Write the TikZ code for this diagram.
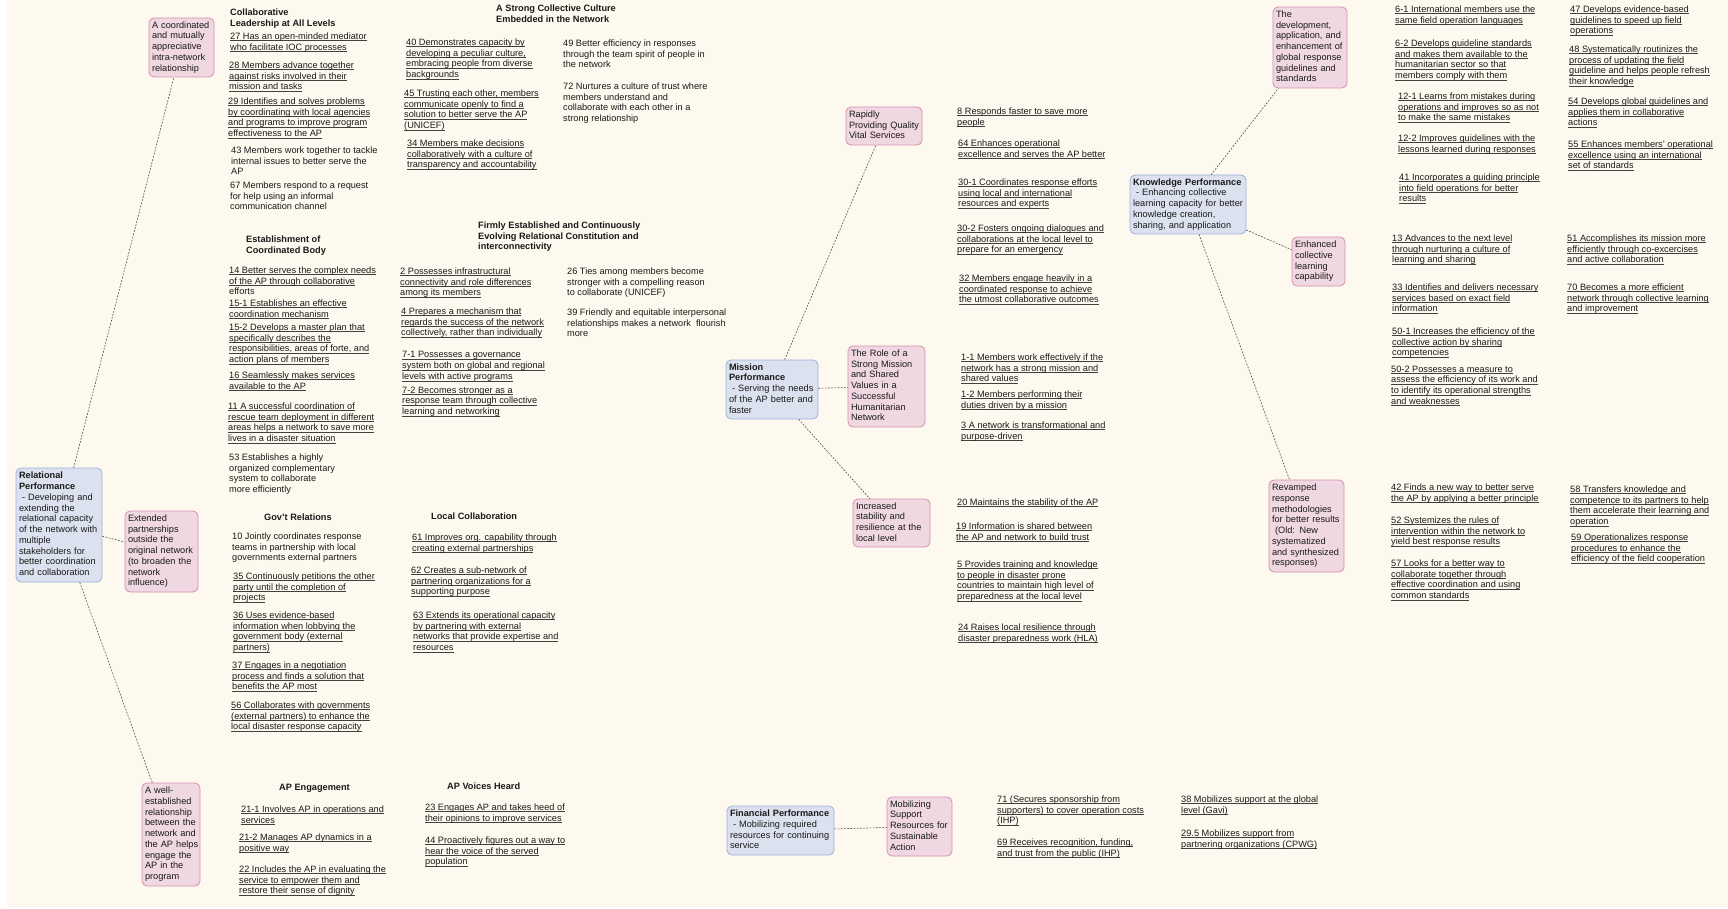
\documentclass[tikz,border=0pt]{standalone}
\usepackage{fontspec}
\setmainfont{Liberation Sans}
\definecolor{paper}{HTML}{FEF9EE}
\definecolor{pinkfill}{HTML}{F0D8E3}
\definecolor{pinkline}{HTML}{D58FAE}
\definecolor{bluefill}{HTML}{DCE1EF}
\definecolor{blueline}{HTML}{9BB0DC}
\definecolor{ink}{HTML}{1A1A1A}
% underlined (linked) line of text
\newcommand\lk[1]{\leavevmode\setbox0\hbox{#1}\rlap{\color{black!75}\rule[-1.7pt]{\wd0}{0.55pt}}\box0}
% unbreakable block of lines for the cards
\newcommand\tb[1]{\begin{tabular}{@{}l@{}}#1\end{tabular}}
\begin{document}
\begin{tikzpicture}[x=1pt,y=-1pt,
  every node/.style={font=\fontsize{9.2}{10.75}\selectfont, text=ink},
  itm/.style={anchor=north west, inner sep=0pt, align=left, yshift=3.6pt},
  hd/.style={itm, font=\fontsize{9.2}{10.75}\selectfont\bfseries},
  card/.style={rounded corners=5pt, line width=0.8pt, inner xsep=3pt, inner ysep=0pt, align=left},
  pk/.style={card, draw=pinkline, fill=pinkfill},
  bl/.style={card, draw=blueline, fill=bluefill},
  link/.style={draw=black!70, line width=0.6pt, dash pattern=on 1.8pt off 1.4pt}
]
\useasboundingbox (0,0) rectangle (1728,909);
\fill[white] (0,0) rectangle (1728,909);
\fill[paper] (7,0) rectangle (1728,907);

% ---------------- Relational performance ----------------
\node[bl, minimum width=86pt, minimum height=114pt, text width=80pt] (rel) at (59,525)
  {\tb{\textbf{Relational}\\\textbf{Performance}\\~- Developing and\\extending the\\relational capacity\\of the network with\\multiple\\stakeholders for\\better coordination\\and collaboration}};
\node[pk, minimum width=65pt, minimum height=59pt, text width=59pt] (coord) at (181.5,47.5)
  {\tb{A coordinated\\and mutually\\appreciative\\intra-network\\relationship}};
\node[pk, minimum width=73pt, minimum height=81pt, text width=67pt] (ext) at (161.5,551.5)
  {\tb{Extended\\partnerships\\outside the\\original network\\(to broaden the\\network\\influence)}};
\node[pk, minimum width=58pt, minimum height=103pt, text width=52pt] (well) at (171,834.5)
  {\tb{A well-\\established\\relationship\\between the\\network and\\the AP helps\\engage the\\AP in the\\program}};

\node[hd] (hcl) at (230,12) {Collaborative\\Leadership at All Levels};
\node[itm] (i27) at (230,36) {\lk{27 Has an open-minded mediator}\\\lk{who facilitate IOC processes}};
\node[itm] (i28) at (229,65) {\lk{28 Members advance together}\\\lk{against risks involved in their}\\\lk{mission and tasks}};
\node[itm] (i29) at (228,101) {\lk{29 Identifies and solves problems}\\\lk{by coordinating with local agencies}\\\lk{and programs to improve program}\\\lk{effectiveness to the AP}};
\node[itm] (i43) at (231,150) {43 Members work together to tackle\\internal issues to better serve the\\AP};
\node[itm] (i67) at (230,185) {67 Members respond to a request\\for help using an informal\\communication channel};

\node[hd] (hcb) at (246,239) {Establishment of\\Coordinated Body};
\node[itm] (i14) at (229,270) {\lk{14 Better serves the complex needs}\\\lk{of the AP through collaborative}\\efforts};
\node[itm] (i151) at (229,303) {\lk{15-1 Establishes an effective}\\\lk{coordination mechanism}};
\node[itm] (i152) at (229,327) {\lk{15-2 Develops a master plan that}\\\lk{specifically describes the}\\\lk{responsibilities, areas of forte, and}\\\lk{action plans of members}};
\node[itm] (i16) at (229,375) {\lk{16 Seamlessly makes services}\\\lk{available to the AP}};
\node[itm] (i11) at (228,406) {\lk{11 A successful coordination of}\\\lk{rescue team deployment in different}\\\lk{areas helps a network to save more}\\\lk{lives in a disaster situation}};
\node[itm] (i53) at (229,457) {53 Establishes a highly\\organized complementary\\system to collaborate\\more efficiently};

\node[hd] (hgov) at (264,517) {Gov't Relations};
\node[itm] (i10) at (232,536) {10 Jointly coordinates response\\teams in partnership with local\\governments external partners};
\node[itm] (i35) at (233,576) {\lk{35 Continuously petitions the other}\\\lk{party until the completion of}\\\lk{projects}};
\node[itm] (i36) at (233,615) {\lk{36 Uses evidence-based}\\\lk{information when lobbying the}\\\lk{government body (external}\\\lk{partners)}};
\node[itm] (i37) at (232,665) {\lk{37 Engages in a negotiation}\\\lk{process and finds a solution that}\\\lk{benefits the AP most}};
\node[itm] (i56) at (231,705) {\lk{56 Collaborates with governments}\\\lk{(external partners) to enhance the}\\\lk{local disaster response capacity}};

\node[hd] (hape) at (279,788) {AP Engagement};
\node[itm] (i211) at (241,809) {\lk{21-1 Involves AP in operations and}\\\lk{services}};
\node[itm] (i212) at (239,837) {\lk{21-2 Manages AP dynamics in a}\\\lk{positive way}};
\node[itm] (i22) at (239,869) {\lk{22 Includes the AP in evaluating the}\\\lk{service to empower them and}\\\lk{restore their sense of dignity}};

\node[hd] (hcul) at (496,8) {A Strong Collective Culture\\Embedded in the Network};
\node[itm] (i40) at (406,42) {\lk{40 Demonstrates capacity by}\\\lk{developing a peculiar culture,}\\\lk{embracing people from diverse}\\\lk{backgrounds}};
\node[itm] (i45) at (404,93) {\lk{45 Trusting each other, members}\\\lk{communicate openly to find a}\\\lk{solution to better serve the AP}\\\lk{(UNICEF)}};
\node[itm] (i34) at (407,143) {\lk{34 Members make decisions}\\\lk{collaboratively with a culture of}\\\lk{transparency and accountability}};
\node[itm] (i49) at (563,43) {49 Better efficiency in responses\\through the team spirit of people in\\the network};
\node[itm] (i72) at (563,86) {72 Nurtures a culture of trust where\\members understand and\\collaborate with each other in a\\strong relationship};

\node[hd] (hrc) at (478,225) {Firmly Established and Continuously\\Evolving Relational Constitution and\\interconnectivity};
\node[itm] (i2) at (400,271) {\lk{2 Possesses infrastructural}\\\lk{connectivity and role differences}\\\lk{among its members}};
\node[itm] (i26) at (567,271) {26 Ties among members become\\stronger with a compelling reason\\to collaborate (UNICEF)};
\node[itm] (i4) at (401,311) {\lk{4 Prepares a mechanism that}\\\lk{regards the success of the network}\\\lk{collectively, rather than individually}};
\node[itm] (i39) at (567,312) {39 Friendly and equitable interpersonal\\relationships makes a network~ flourish\\more};
\node[itm] (i71) at (402,355) {\lk{7-1 Possesses a governance}\\\lk{system both on global and regional}\\\lk{levels with active programs}};
\node[itm] (i72b) at (402,390) {\lk{7-2 Becomes stronger as a}\\\lk{response team through collective}\\\lk{learning and networking}};

\node[hd] (hloc) at (431,516) {Local Collaboration};
\node[itm] (i61) at (412,537) {\lk{61 Improves org. capability through}\\\lk{creating external partnerships}};
\node[itm] (i62) at (411,570) {\lk{62 Creates a sub-network of}\\\lk{partnering organizations for a}\\\lk{supporting purpose}};
\node[itm] (i63) at (413,615) {\lk{63 Extends its operational capacity}\\\lk{by partnering with external}\\\lk{networks that provide expertise and}\\\lk{resources}};

\node[hd] (hvoi) at (447,786) {AP Voices Heard};
\node[itm] (i23) at (425,807) {\lk{23 Engages AP and takes heed of}\\\lk{their opinions to improve services}};
\node[itm] (i44) at (425,840) {\lk{44 Proactively figures out a way to}\\\lk{hear the voice of the served}\\\lk{population}};

% ---------------- Mission performance ----------------
\node[bl, minimum width=92pt, minimum height=59pt, text width=86pt] (mis) at (772,389.5)
  {\tb{\textbf{Mission}\\\textbf{Performance}\\~- Serving the needs\\of the AP better and\\faster}};
\node[pk, minimum width=76pt, minimum height=38pt, text width=70pt] (rap) at (884,126)
  {\tb{Rapidly\\Providing Quality\\Vital Services}};
\node[pk, minimum width=77pt, minimum height=81pt, text width=71pt] (role) at (886.5,386.5)
  {\tb{The Role of a\\Strong Mission\\and Shared\\Values in a\\Successful\\Humanitarian\\Network}};
\node[pk, minimum width=77pt, minimum height=48pt, text width=71pt] (inc) at (891.5,523)
  {\tb{Increased\\stability and\\resilience at the\\local level}};

\node[itm] (i8) at (957,111) {\lk{8 Responds faster to save more}\\\lk{people}};
\node[itm] (i64) at (958,143) {\lk{64 Enhances operational}\\\lk{excellence and serves the AP better}};
\node[itm] (i301) at (958,182) {\lk{30-1 Coordinates response efforts}\\\lk{using local and international}\\\lk{resources and experts}};
\node[itm] (i302) at (957,228) {\lk{30-2 Fosters ongoing dialogues and}\\\lk{collaborations at the local level to}\\\lk{prepare for an emergency}};
\node[itm] (i32) at (959,278) {\lk{32 Members engage heavily in a}\\\lk{coordinated response to achieve}\\\lk{the utmost collaborative outcomes}};
\node[itm] (i11m) at (961,357) {\lk{1-1 Members work effectively if the}\\\lk{network has a strong mission and}\\\lk{shared values}};
\node[itm] (i12m) at (961,394) {\lk{1-2 Members performing their}\\\lk{duties driven by a mission}};
\node[itm] (i3) at (961,425) {\lk{3 A network is transformational and}\\\lk{purpose-driven}};
\node[itm] (i20) at (957,502) {\lk{20 Maintains the stability of the AP}};
\node[itm] (i19) at (956,526) {\lk{19 Information is shared between}\\\lk{the AP and network to build trust}};
\node[itm] (i5) at (957,564) {\lk{5 Provides training and knowledge}\\\lk{to people in disaster prone}\\\lk{countries to maintain high level of}\\\lk{preparedness at the local level}};
\node[itm] (i24) at (958,627) {\lk{24 Raises local resilience through}\\\lk{disaster preparedness work (HLA)}};

% ---------------- Financial performance ----------------
\node[bl, minimum width=107pt, minimum height=49pt, text width=101pt] (fin) at (780.5,830.5)
  {\tb{\textbf{Financial Performance}\\~- Mobilizing required\\resources for continuing\\service}};
\node[pk, minimum width=65pt, minimum height=59pt, text width=59pt] (mob) at (919.5,826.5)
  {\tb{Mobilizing\\Support\\Resources for\\Sustainable\\Action}};
\node[itm] (i71f) at (997,799) {\lk{71 (Secures sponsorship from}\\\lk{supporters) to cover operation costs}\\\lk{(IHP)}};
\node[itm] (i69) at (997,842) {\lk{69 Receives recognition, funding,}\\\lk{and trust from the public (IHP)}};
\node[itm] (i38) at (1181,799) {\lk{38 Mobilizes support at the global}\\\lk{level (Gavi)}};
\node[itm] (i295) at (1181,833) {\lk{29.5 Mobilizes support from}\\\lk{partnering organizations (CPWG)}};

% ---------------- Knowledge performance ----------------
\node[bl, minimum width=116pt, minimum height=59pt, text width=110pt] (kno) at (1188,204.5)
  {\tb{\textbf{Knowledge Performance}\\~- Enhancing collective\\learning capacity for better\\knowledge creation,\\sharing, and application}};
\node[pk, minimum width=74pt, minimum height=81pt, text width=68pt] (dev) at (1310,47.5)
  {\tb{The\\development,\\application, and\\enhancement of\\global response\\guidelines and\\standards}};
\node[pk, minimum width=53pt, minimum height=49pt, text width=47pt] (enh) at (1318.5,261.5)
  {\tb{Enhanced\\collective\\learning\\capability}};
\node[pk, minimum width=75pt, minimum height=92pt, text width=69pt] (rev) at (1306.5,526)
  {\tb{Revamped\\response\\methodologies\\for better results\\~(Old: New\\systematized\\and synthesized\\responses)}};

\node[itm] (i61k) at (1395,9) {\lk{6-1 International members use the}\\\lk{same field operation languages}};
\node[itm] (i62k) at (1395,43) {\lk{6-2 Develops guideline standards}\\\lk{and makes them available to the}\\\lk{humanitarian sector so that}\\\lk{members comply with them}};
\node[itm] (i121) at (1398,96) {\lk{12-1 Learns from mistakes during}\\\lk{operations and improves so as not}\\\lk{to make the same mistakes}};
\node[itm] (i122) at (1398,138) {\lk{12-2 Improves guidelines with the}\\\lk{lessons learned during responses}};
\node[itm] (i41) at (1399,177) {\lk{41 Incorporates a guiding principle}\\\lk{into field operations for better}\\\lk{results}};
\node[itm] (i47) at (1570,9) {\lk{47 Develops evidence-based}\\\lk{guidelines to speed up field}\\\lk{operations}};
\node[itm] (i48) at (1569,49) {\lk{48 Systematically routinizes the}\\\lk{process of updating the field}\\\lk{guideline and helps people refresh}\\\lk{their knowledge}};
\node[itm] (i54) at (1568,101) {\lk{54 Develops global guidelines and}\\\lk{applies them in collaborative}\\\lk{actions}};
\node[itm] (i55) at (1568,144) {\lk{55 Enhances members' operational}\\\lk{excellence using an international}\\\lk{set of standards}};
\node[itm] (i13) at (1392,238) {\lk{13 Advances to the next level}\\\lk{through nurturing a culture of}\\\lk{learning and sharing}};
\node[itm] (i33) at (1392,287) {\lk{33 Identifies and delivers necessary}\\\lk{services based on exact field}\\\lk{information}};
\node[itm] (i51) at (1567,238) {\lk{51 Accomplishes its mission more}\\\lk{efficiently through co-excercises}\\\lk{and active collaboration}};
\node[itm] (i70) at (1567,287) {\lk{70 Becomes a more efficient}\\\lk{network through collective learning}\\\lk{and improvement}};
\node[itm] (i501) at (1392,331) {\lk{50-1 Increases the efficiency of the}\\\lk{collective action by sharing}\\\lk{competencies}};
\node[itm] (i502) at (1391,369) {\lk{50-2 Possesses a measure to}\\\lk{assess the efficiency of its work and}\\\lk{to identify its operational strengths}\\\lk{and weaknesses}};
\node[itm] (i42) at (1391,487) {\lk{42 Finds a new way to better serve}\\\lk{the AP by applying a better principle}};
\node[itm] (i52) at (1391,520) {\lk{52 Systemizes the rules of}\\\lk{intervention within the network to}\\\lk{yield best response results}};
\node[itm] (i57) at (1391,563) {\lk{57 Looks for a better way to}\\\lk{collaborate together through}\\\lk{effective coordination and using}\\\lk{common standards}};
\node[itm] (i58) at (1570,489) {\lk{58 Transfers knowledge and}\\\lk{competence to its partners to help}\\\lk{them accelerate their learning and}\\\lk{operation}};
\node[itm] (i59) at (1571,537) {\lk{59 Operationalizes response}\\\lk{procedures to enhance the}\\\lk{efficiency of the field cooperation}};

% ---------------- connectors ----------------
\draw[link] (rel) -- (coord);
\draw[link] (rel) -- (ext);
\draw[link] (rel) -- (well);
\draw[link] (mis) -- (rap);
\draw[link] (mis) -- (role);
\draw[link] (mis) -- (inc);
\draw[link] (fin) -- (mob);
\draw[link] (kno) -- (dev);
\draw[link] (kno) -- (enh);
\draw[link] (kno) -- (rev);
\end{tikzpicture}
\end{document}
